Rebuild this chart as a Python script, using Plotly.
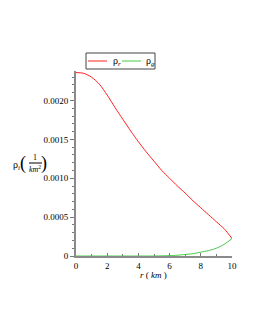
import plotly.graph_objects as go

r_vals = [0, 0.5, 1, 1.5, 2, 2.5, 3, 3.5, 4, 4.5, 5, 5.5, 6, 6.5, 7, 7.5, 8, 8.5, 9, 9.5, 10]
rho_r = [0.00236, 0.00235, 0.00230, 0.00221, 0.00207, 0.00191, 0.00176, 0.00161, 0.00147,
         0.00134, 0.00122, 0.00110, 0.00100, 0.00090, 0.00081, 0.00071, 0.00062, 0.00053,
         0.00044, 0.00035, 0.000225]
rho_g = [0, 0, 0, 0, 0, 0, 0, 0, 0, 0, 0, 0.000002, 0.000005, 0.00001, 0.00002, 0.00003,
         0.00005, 0.00007, 0.0001, 0.00015, 0.000225]
series_names = ["ρ<sub><i>r</i></sub>", "ρ<sub><i>g</i></sub>"]
series_colors = ["#ff2020", "#44cc44"]
y_tickvals = [0, 0.0005, 0.0010, 0.0015, 0.0020]
y_ticktext = ["0", "0.0005", "0.0010", "0.0015", "0.0020"]
x_tickvals = [0, 2, 4, 6, 8, 10]

# the page body has an 8px margin, so figure coordinates = screen - 8
OFF = 8
W, H = 255 - OFF, 330 - OFF
L, R, T, B = 76 - OFF, 232 - OFF, 71 - OFF, 256 - OFF
YMAX = 0.00238

def px(x):
    return (x - OFF - L) / (R - L)

def py(y):
    return (B - (y - OFF)) / (B - T)

font = "Liberation Serif, Times New Roman, serif"

fig = go.Figure()
for ys, name, col in zip([rho_r, rho_g], series_names, series_colors):
    fig.add_trace(go.Scatter(x=r_vals, y=ys, mode="lines",
                             line=dict(color=col, width=1, shape="spline", smoothing=0.8),
                             name=name, showlegend=False, cliponaxis=False))

axis_common = dict(showgrid=False, zeroline=False, showline=True, linecolor="#8a8a8a", linewidth=2,
                   tickcolor="#777", tickwidth=1, layer="below traces",
                   tickfont=dict(family=font, size=9, color="#000"))
fig.update_xaxes(range=[0, 10], tickvals=x_tickvals, ticktext=[str(v) for v in x_tickvals],
                 ticks="inside", ticklen=3,
                 minor=dict(dtick=1, ticks="inside", ticklen=2, tickcolor="#777"), **axis_common)
fig.update_yaxes(range=[0, YMAX], tickvals=y_tickvals, ticktext=y_ticktext,
                 ticks="outside", ticklen=4,
                 minor=dict(tick0=0, dtick=0.0001, ticks="outside", ticklen=2, tickcolor="#777"), **axis_common)

anns = [
    dict(x=px(153), y=py(275), text="<i>r</i> ( <i>km</i> )", size=9),
    dict(x=px(16), y=py(165), text="ρ<sub><i>i</i></sub>", size=10),
    dict(x=px(23), y=py(163), text="(", size=18),
    dict(x=px(44), y=py(163), text=")", size=18),
    dict(x=px(35), y=py(157), text="1", size=8),
    dict(x=px(35), y=py(169), text="<i>km</i><sup>2</sup>", size=8),
]
for a in anns:
    fig.add_annotation(x=a["x"], y=a["y"], xref="paper", yref="paper", text=a["text"], showarrow=False,
                       xanchor="center", yanchor="middle", font=dict(family=font, size=a["size"], color="#000"))
fig.add_shape(type="line", xref="paper", yref="paper", x0=px(29), x1=px(42), y0=py(163), y1=py(163),
              line=dict(color="#000", width=1))

# legend box (drawn like the reference: compact, horizontal)
fig.add_shape(type="rect", xref="paper", yref="paper", x0=px(86), x1=px(155), y0=py(53), y1=py(69),
              line=dict(color="#444", width=1), fillcolor="white")
leg_line_x = [(88, 107), (122, 141)]
leg_text_x = [111, 144]
for (x0, x1), tx, name, col in zip(leg_line_x, leg_text_x, series_names, series_colors):
    fig.add_shape(type="line", xref="paper", yref="paper", x0=px(x0), x1=px(x1), y0=py(61), y1=py(61),
                  line=dict(color=col, width=1))
    fig.add_annotation(x=px(tx), y=py(61), xref="paper", yref="paper", text=name, showarrow=False,
                       xanchor="left", yanchor="middle", font=dict(family=font, size=10, color="#000"))

fig.update_layout(
    width=W, height=H, margin=dict(l=L, r=W - R, t=T, b=H - B, pad=0, autoexpand=False),
    paper_bgcolor="white", plot_bgcolor="white",
    showlegend=False,
)
fig.write_html("out.html")
